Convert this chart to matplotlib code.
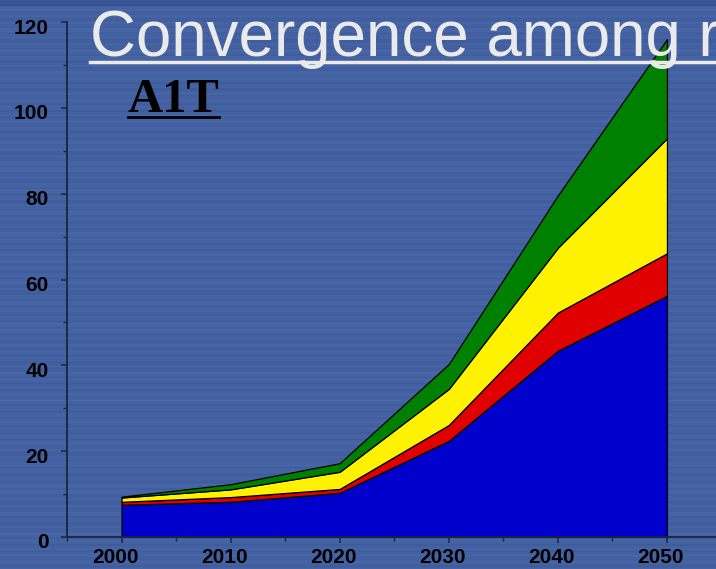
import numpy as np
import matplotlib.pyplot as plt
import matplotlib.transforms as mtransforms
from matplotlib.ticker import MultipleLocator

# stacked series (bottom to top)
years = [2000, 2010, 2020, 2030, 2040, 2050]
blue = [7.5, 8.2, 10.3, 22.4, 43.4, 56.2]
red = [8.2, 9.3, 11.2, 26.1, 52.3, 66.1]
yellow = [9.2, 11.1, 15.2, 34.5, 67.4, 92.9]
green = [9.4, 12.3, 17.2, 40.3, 79.6, 116.0]

layers = [blue, red, yellow, green]
colors = ['#0000CC', '#E00000', '#FFF200', '#008000']

fig = plt.figure(figsize=(7.16, 5.69), dpi=100)

# striped slide background
rows = np.arange(569)
shade = (0.5 * np.sin(rows * 2 * np.pi / 7.0)
         + 0.3 * np.sin(rows * 2 * np.pi / 3.1 + 1.0)
         + 0.2 * np.sin(rows * 2 * np.pi / 23.0))
base = np.array([68, 98, 162]) / 255.0
bg = base[None, :] + 0.025 * shade[:, None]
bg[:6] -= 0.06
bg = np.clip(bg, 0, 1)
bg_img = np.repeat(bg[:, None, :], 4, axis=1)
bax = fig.add_axes([0, 0, 1, 1], zorder=0)
bax.imshow(bg_img, aspect='auto', extent=[0, 1, 0, 1], interpolation='bilinear')
bax.axis('off')

ax = fig.add_axes([67 / 716, 32 / 569, 654.5 / 716, 515 / 569], zorder=1)
ax.patch.set_alpha(0)

prev = [0] * len(years)
for top, c in zip(layers, colors):
    ax.fill_between(years, prev, top, facecolor=c, edgecolor='black', linewidth=0.9)
    prev = top

ax.set_xlim(1995, 2055)
ax.set_ylim(0, 120)
ax.xaxis.set_major_locator(MultipleLocator(10))
ax.xaxis.set_minor_locator(MultipleLocator(5))
ax.yaxis.set_major_locator(MultipleLocator(20))
ax.yaxis.set_minor_locator(MultipleLocator(10))

for side in ['top', 'right']:
    ax.spines[side].set_visible(False)
for side in ['left', 'bottom']:
    ax.spines[side].set_color('#1A2440')
    ax.spines[side].set_linewidth(1.3)

ax.tick_params(which='major', length=4, width=1.1, color='#1A2440')
ax.tick_params(which='minor', length=3, width=1.0, color='#1A2440')
ax.tick_params(axis='y', pad=9)
ax.tick_params(axis='x', pad=4)

for lab in ax.get_xticklabels() + ax.get_yticklabels():
    lab.set_fontfamily('Liberation Sans')
    lab.set_fontweight('bold')
    lab.set_fontsize(15)
    lab.set_color('black')

dx = mtransforms.ScaledTranslation(-6 / 100, 0, fig.dpi_scale_trans)
for lab in ax.get_xticklabels():
    lab.set_transform(lab.get_transform() + dx)
dy = mtransforms.ScaledTranslation(0, -4 / 100, fig.dpi_scale_trans)
for lab in ax.get_yticklabels():
    lab.set_transform(lab.get_transform() + dy)

# slide title and scenario label
fig.text(90 / 716, 1 - 56 / 569, 'Convergence among regions', fontsize=45.8,
         family='Liberation Sans', color='#EAEAEA', zorder=3)
fig.add_artist(plt.Line2D([90 / 716, 1], [1 - 61.5 / 569] * 2, color='#EAEAEA',
                          linewidth=2.5, transform=fig.transFigure, zorder=3))
fig.text(128 / 716, 1 - 112 / 569, 'A1T', fontsize=35, fontweight='bold',
         family='Liberation Serif', color='black', zorder=3)
fig.add_artist(plt.Line2D([128 / 716, 219 / 716], [1 - 117 / 569] * 2, color='black',
                          linewidth=2, transform=fig.transFigure, zorder=3))

fig.savefig('out.png', dpi=100)
